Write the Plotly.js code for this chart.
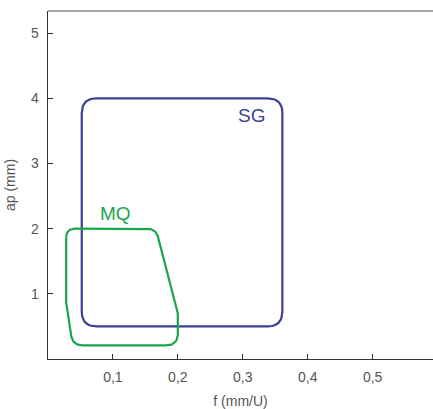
<!DOCTYPE html>
<html>
<head>
<meta charset="utf-8">
<script src="https://cdn.plot.ly/plotly-3.0.1.min.js"></script>
<style>html,body{margin:0;padding:0;background:#fff;}#chart{width:433px;height:409px;}</style>
</head>
<body>
<div id="chart"></div>
<script>
// ---- data ----
var xTickVals = [0.1, 0.2, 0.3, 0.4, 0.5];
var yTickVals = [1, 2, 3, 4, 5];
var xTitle = 'f (mm/U)';
var yTitle = 'ap (mm)';
// SG region (rectangle): feed f and depth ap
var sgF  = [0.052, 0.361, 0.361, 0.052];
var sgAp = [4.00, 4.00, 0.50, 0.50];
var sgLabel = 'SG';
// MQ region (polygon)
var mqF  = [0.028, 0.166, 0.200, 0.200, 0.038, 0.028];
var mqAp = [2.00, 2.00, 0.74, 0.21, 0.21, 0.87];
var mqLabel = 'MQ';
var labelPos = {SG: [0.313, 3.74], MQ: [0.104, 2.24]};

// ---- style ----
var W = 433, H = 409;
var M = {l: 48, r: 0, t: 11, b: 50};
var xRange = [0, 0.593], yRange = [0, 5.34];
var sgColor = '#3b3f96', mqColor = '#1aa64e';
var sgRadii = [15, 15, 15, 15];
var mqRadii = [9, 9, 5, 12, 10, 0];

var pw = W - M.l - M.r, ph = H - M.t - M.b;
function toPx(x, y) { return [(x - xRange[0]) / (xRange[1] - xRange[0]) * pw, (y - yRange[0]) / (yRange[1] - yRange[0]) * ph]; }
function toData(px, py) { return [xRange[0] + px / pw * (xRange[1] - xRange[0]), yRange[0] + py / ph * (yRange[1] - yRange[0])]; }

function roundedPath(xs, ys, radii) {
  var n = xs.length, pts = [];
  for (var i = 0; i < n; i++) pts.push(toPx(xs[i], ys[i]));
  var ox = [], oy = [];
  for (var k = 0; k < n; k++) {
    var p = pts[k], a = pts[(k - 1 + n) % n], b = pts[(k + 1) % n];
    var r = radii[k];
    if (r <= 0) { var d0 = toData(p[0], p[1]); ox.push(d0[0]); oy.push(d0[1]); continue; }
    var va = [a[0] - p[0], a[1] - p[1]], vb = [b[0] - p[0], b[1] - p[1]];
    var la = Math.hypot(va[0], va[1]), lb = Math.hypot(vb[0], vb[1]);
    var ra = Math.min(r, la / 2), rb = Math.min(r, lb / 2);
    var s = [p[0] + va[0] / la * ra, p[1] + va[1] / la * ra];
    var e = [p[0] + vb[0] / lb * rb, p[1] + vb[1] / lb * rb];
    var steps = 12;
    for (var t = 0; t <= steps; t++) {
      var u = t / steps;
      var qx = (1 - u) * (1 - u) * s[0] + 2 * (1 - u) * u * p[0] + u * u * e[0];
      var qy = (1 - u) * (1 - u) * s[1] + 2 * (1 - u) * u * p[1] + u * u * e[1];
      var d = toData(qx, qy); ox.push(d[0]); oy.push(d[1]);
    }
  }
  ox.push(ox[0]); oy.push(oy[0]);
  return {x: ox, y: oy};
}

var sgPath = roundedPath(sgF, sgAp, sgRadii);
var mqPath = roundedPath(mqF, mqAp, mqRadii);

var font = 'Liberation Sans, Arial, sans-serif';
var traces = [
  {x: sgPath.x, y: sgPath.y, mode: 'lines', line: {color: sgColor, width: 2.2}, hoverinfo: 'skip', name: sgLabel},
  {x: mqPath.x, y: mqPath.y, mode: 'lines', line: {color: mqColor, width: 2.2}, hoverinfo: 'skip', name: mqLabel}
];

var axisCommon = {
  showgrid: false, zeroline: false, showline: true, linecolor: '#333', linewidth: 1.3,
  ticks: 'inside', ticklen: 5, tickwidth: 1, tickcolor: '#333',
  tickfont: {family: font, size: 14, color: '#555'}, ticklabelstandoff: 5
};

var layout = {
  width: W, height: H, margin: M, showlegend: false,
  paper_bgcolor: '#fff', plot_bgcolor: '#fff', separators: ', ',
  font: {family: font, color: '#555'},
  xaxis: Object.assign({}, axisCommon, {range: xRange, tickvals: xTickVals, tickformat: '.1f',
    title: {text: xTitle, font: {family: font, size: 14, color: '#555'}, standoff: 14}}),
  yaxis: Object.assign({}, axisCommon, {range: yRange, tickvals: yTickVals,
    title: {text: yTitle, font: {family: font, size: 14, color: '#555'}, standoff: 12}}),
  shapes: [{type: 'line', xref: 'paper', yref: 'paper', x0: 0, x1: 1, y0: 1, y1: 1, line: {color: '#888', width: 1.5}}],
  annotations: [
    {x: labelPos.SG[0], y: labelPos.SG[1], text: sgLabel, showarrow: false, font: {family: font, size: 19, color: sgColor}},
    {x: labelPos.MQ[0], y: labelPos.MQ[1], text: mqLabel, showarrow: false, font: {family: font, size: 19, color: mqColor}}
  ]
};

Plotly.newPlot('chart', traces, layout, {staticPlot: true, displayModeBar: false});
</script>
</body>
</html>
